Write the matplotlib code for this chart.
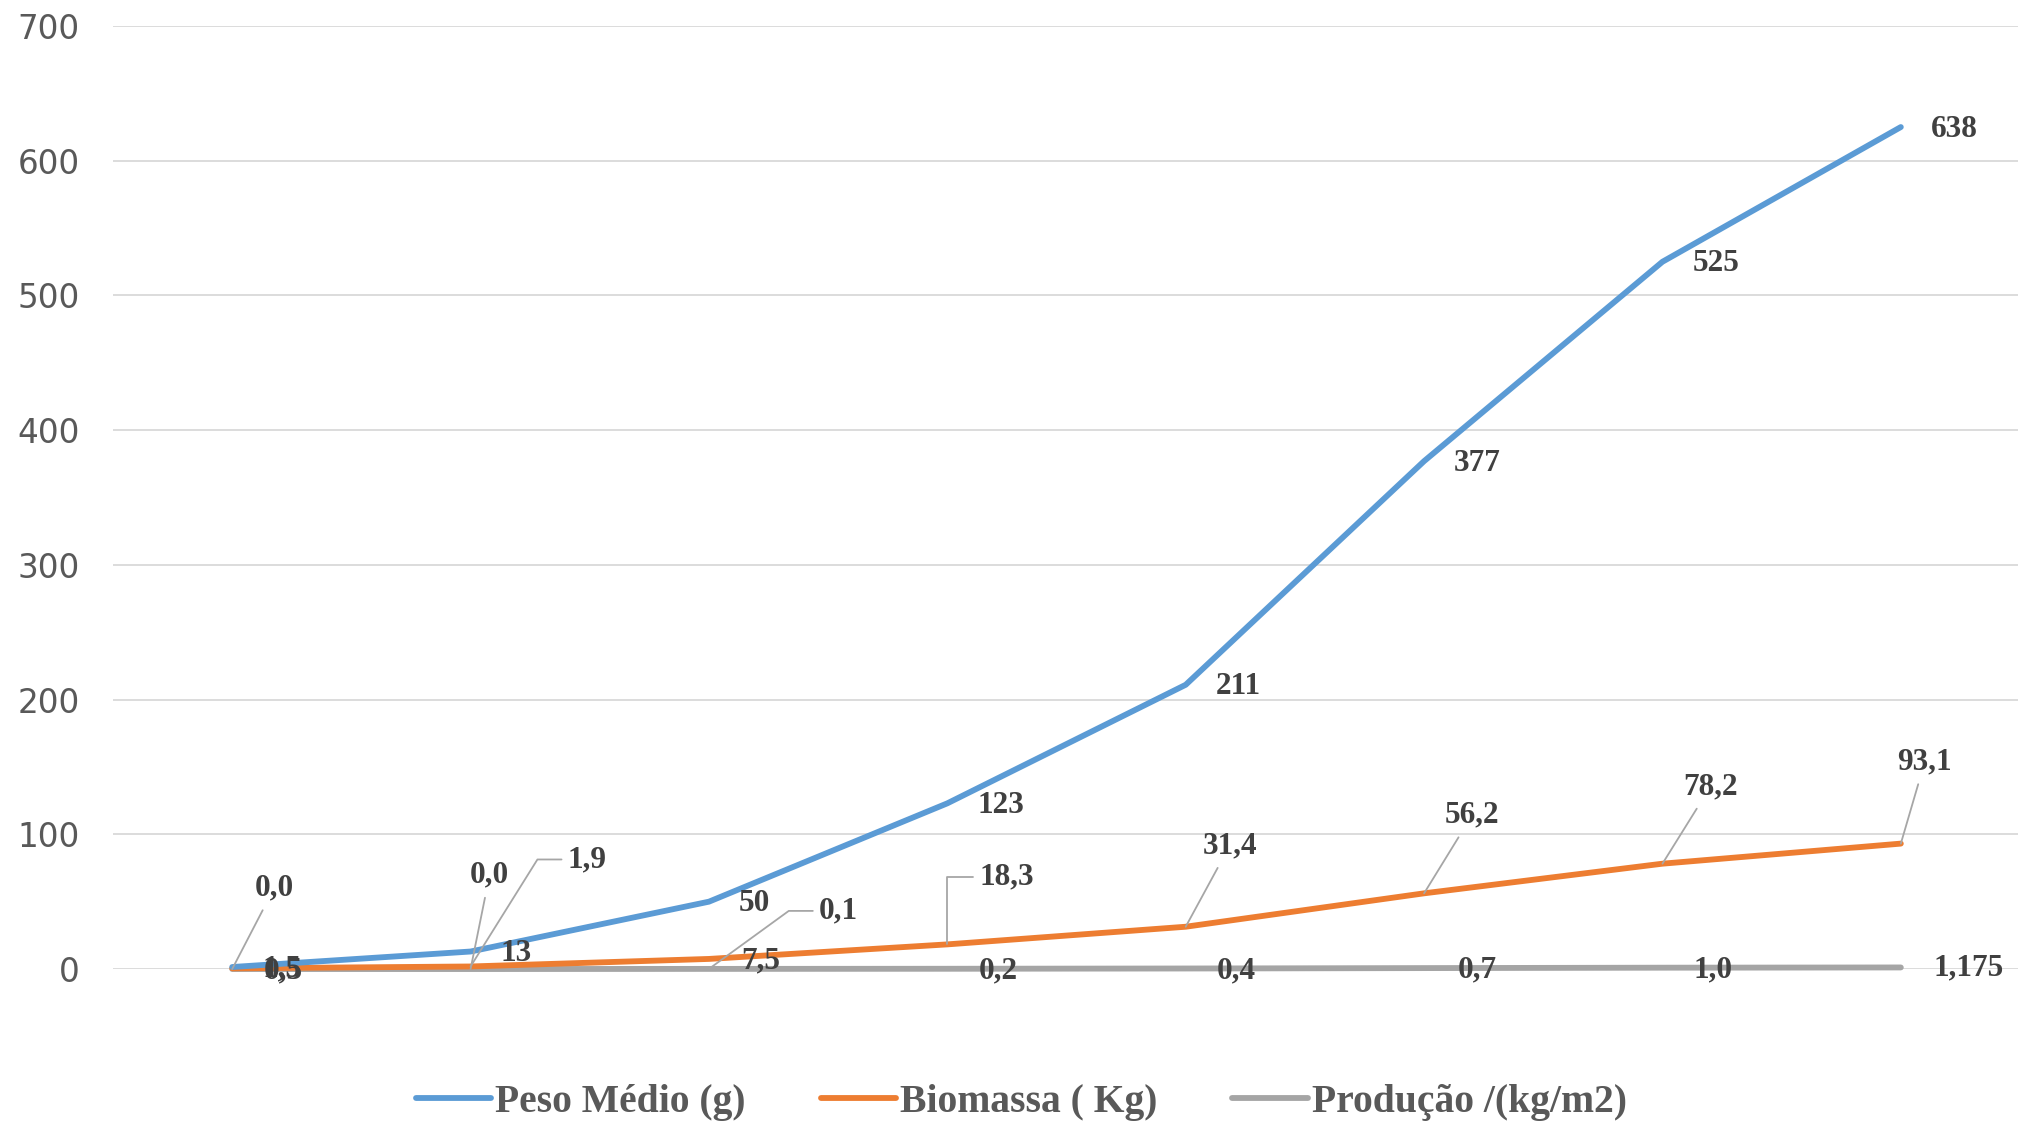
import matplotlib
matplotlib.use("Agg")
import matplotlib.pyplot as plt

# ---------------- data ----------------
categories = list(range(8))
peso = [1.5, 13, 50, 123, 211, 377, 525, 625]
peso_labels = ["1,5", "13", "50", "123", "211", "377", "525", "638"]
biomassa = [0.5, 1.9, 7.5, 18.3, 31.4, 56.2, 78.2, 93.1]
biomassa_labels = ["0,5", "1,9", "7,5", "18,3", "31,4", "56,2", "78,2", "93,1"]
producao = [0.0, 0.0, 0.1, 0.2, 0.4, 0.7, 1.0, 1.175]
producao_labels = ["0,0", "0,0", "0,1", "0,2", "0,4", "0,7", "1,0", "1,175"]
series_names = ["Peso Médio (g)", "Biomassa ( Kg)", "Produção /(kg/m2)"]
yticks = [0, 100, 200, 300, 400, 500, 600, 700]

# ---------------- style ----------------
C_BLUE = "#5B9BD5"
C_ORANGE = "#ED7D31"
C_GRAY = "#A5A5A5"
LBL = "#404040"
LEAD = "#A6A6A6"
SERIF = ["Liberation Serif", "DejaVu Serif"]
FS = 22.5

fig = plt.figure(figsize=(20.18, 11.26), dpi=100)
ax = fig.add_axes([0.056, 0.1394, 0.945, 0.8375])

ax.set_xlim(-0.5, 7.5)
ax.set_ylim(0, 700)
ax.set_yticks(yticks)
ax.set_yticklabels([str(v) for v in yticks], fontsize=23.5, color="#595959",
                   family="DejaVu Sans")
ax.set_xticks([])
ax.tick_params(axis="y", length=0, pad=24)
for s in ax.spines.values():
    s.set_visible(False)
ax.grid(axis="y", color="#D9D9D9", lw=1.3)
ax.set_axisbelow(True)

lw = 4.2
ax.plot(categories, producao, color=C_GRAY, lw=lw, solid_capstyle="round",
        label=series_names[2], zorder=3, clip_on=False)
ax.plot(categories, biomassa, color=C_ORANGE, lw=lw, solid_capstyle="round",
        label=series_names[1], zorder=4, clip_on=False)
ax.plot(categories, peso, color=C_BLUE, lw=lw, solid_capstyle="round",
        label=series_names[0], zorder=5, clip_on=False)

tkw = dict(fontsize=FS, fontweight="bold", color=LBL, family=SERIF,
           textcoords="offset pixels", zorder=6, annotation_clip=False)

# Peso labels: right of points
for i, (v, t) in enumerate(zip(peso, peso_labels)):
    ax.annotate(t, (categories[i], v), xytext=(30, -2), ha="left", va="center", **tkw)

# Biomassa labels
bio_off = {0: (51, -3), 1: (116, 107), 2: (52, -2), 3: (59, 67),
           4: (44, 81), 5: (48, 78), 6: (48, 77), 7: (24, 82)}
for i, (v, t) in enumerate(zip(biomassa, biomassa_labels)):
    dx, dy = bio_off[i]
    if i in (0, 2):
        ax.annotate(t, (categories[i], v), xytext=(dx, dy), ha="center", va="center", **tkw)
    elif i == 1:
        ax.annotate(t, (categories[i], v), xytext=(dx, dy), ha="center", va="center",
                    arrowprops=dict(arrowstyle="-", color=LEAD, lw=1.3, shrinkA=2, shrinkB=0,
                                    relpos=(0, 0.5),
                                    connectionstyle="angle,angleA=0,angleB=58,rad=0"), **tkw)
    elif i == 3:
        ax.annotate(t, (categories[i], v), xytext=(dx, dy), ha="center", va="center",
                    arrowprops=dict(arrowstyle="-", color=LEAD, lw=1.3, shrinkA=2, shrinkB=0,
                                    relpos=(0, 0.5),
                                    connectionstyle="angle,angleA=0,angleB=90,rad=0"), **tkw)
    else:
        ax.annotate(t, (categories[i], v), xytext=(dx, dy), ha="center", va="center",
                    arrowprops=dict(arrowstyle="-", color=LEAD, lw=1.3, shrinkA=4, shrinkB=0),
                    **tkw)

# Producao labels
prod_off = {0: (42, 81), 1: (19, 94), 2: (129, 58), 3: (51, -2),
            4: (51, -2), 5: (53, -2), 6: (51, -2), 7: (68, 0)}
for i, (v, t) in enumerate(zip(producao, producao_labels)):
    dx, dy = prod_off[i]
    if i in (0, 1):
        ax.annotate(t, (categories[i], v), xytext=(dx, dy), ha="center", va="center",
                    arrowprops=dict(arrowstyle="-", color=LEAD, lw=1.3, shrinkA=4, shrinkB=0),
                    **tkw)
    elif i == 2:
        ax.annotate(t, (categories[i], v), xytext=(dx, dy), ha="center", va="center",
                    arrowprops=dict(arrowstyle="-", color=LEAD, lw=1.3, shrinkA=2, shrinkB=0,
                                    relpos=(0, 0.5),
                                    connectionstyle="angle,angleA=0,angleB=36,rad=0"), **tkw)
    else:
        ax.annotate(t, (categories[i], v), xytext=(dx, dy), ha="center", va="center", **tkw)

handles, labels = ax.get_legend_handles_labels()
order = [2, 1, 0]
leg = fig.legend([handles[k] for k in order], [labels[k] for k in order],
                 loc="center", bbox_to_anchor=(0.506, 0.021), ncol=3, frameon=False,
                 prop=dict(family=SERIF, weight="bold", size=28.5),
                 handlelength=1.9, handletextpad=0.1, columnspacing=1.9)
for txt in leg.get_texts():
    txt.set_color("#595959")

fig.savefig("out.png", dpi=100)
